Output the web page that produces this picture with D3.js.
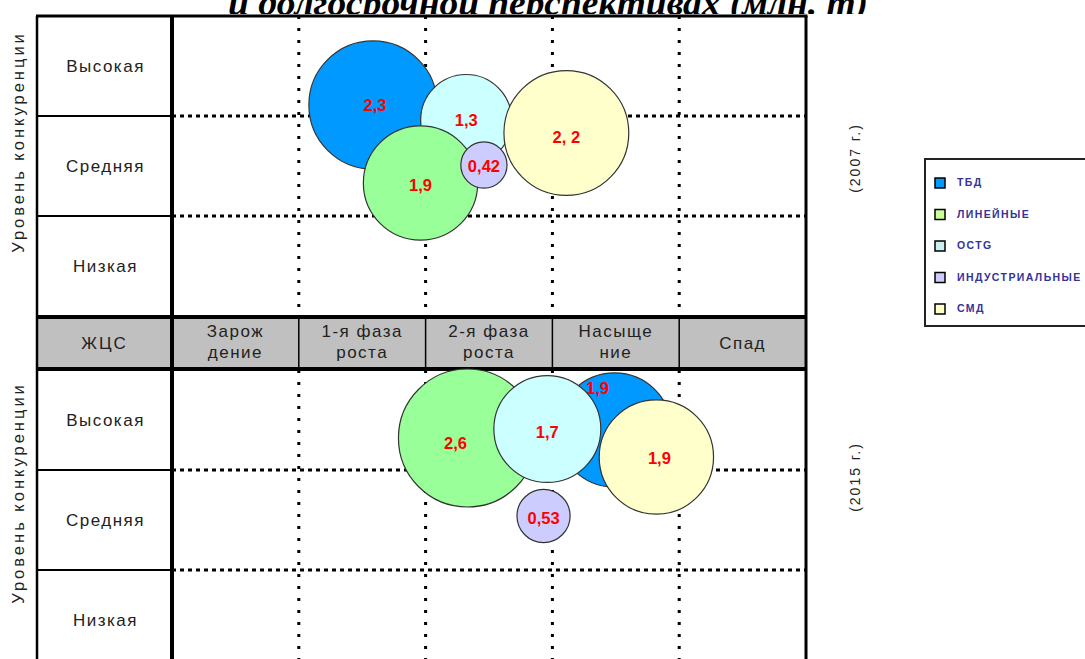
<!DOCTYPE html>
<html lang="ru">
<head>
    <meta charset="UTF-8">
    <title>ЖЦС</title>
    <script src="https://cdn.jsdelivr.net/npm/d3@7/dist/d3.min.js"></script>
    <style>
        body { margin: 0; background: #fff; }
        text { font-family: Arial, "Liberation Sans", sans-serif; }
    </style>
</head>
<body>
<svg id="main-svg" width="1085" height="659" xmlns="http://www.w3.org/2000/svg"></svg>
<script>
    'use strict';
    // данные
    const titleText = 'и долгосрочной перспективах (млн. т)';
    const stages = [['Зарож', 'дение'], ['1-я фаза', 'роста'], ['2-я фаза', 'роста'], ['Насыще', 'ние'], ['Спад']];
    const levels = ['Высокая', 'Средняя', 'Низкая'];
    const categories = ['ТБД', 'ЛИНЕЙНЫЕ', 'ОСТG', 'ИНДУСТРИАЛЬНЫЕ', 'СМД'];

    // 2007 г.  (стадия ЖЦС 0..5, уровень конкуренции 0..3)
    const values2007 = [2.3, 1.9, 1.3, 0.42, 2.2];
    const labels2007 = ['2,3', '1,9', '1,3', '0,42', '2, 2'];
    const stage2007 = [1.585, 1.96, 2.32, 2.46, 3.11];
    const level2007 = [2.11, 1.33, 1.96, 1.51, 1.83];
    const order2007 = [0, 2, 4, 1, 3];

    // 2015 г.
    const values2015 = [1.9, 2.6, 1.7, 0.53, 1.9];
    const labels2015 = ['1,9', '2,6', '1,7', '0,53', '1,9'];
    const stage2015 = [3.49, 2.33, 2.96, 2.93, 3.82];
    const level2015 = [2.40, 2.32, 2.41, 1.54, 2.13];
    const order2015 = [1, 0, 2, 4, 3];

    // оформление
    const bubbleColors = ['#0099FF', '#99FF99', '#CCFFFF', '#CCCCFF', '#FFFFCC'];
    const legendColors = ['#0099FF', '#CCFF99', '#CCEEEE', '#CCCCFF', '#FFFFCC'];
    const labelShift2007 = [[2, 0], [0, 2], [0, 0], [0, 1], [0, 4]];
    const labelShift2015 = [[-17, -42], [-12, 5], [0, 3], [0, 2], [3, 1]];

    const svg = d3.select('#main-svg');
    const left = 37, split = 172, right = 806;
    const x = d3.scaleLinear().domain([0, 5]).range([split, right]);
    const yTop = d3.scaleLinear().domain([0, 3]).range([316, 16]);
    const yBot = d3.scaleLinear().domain([0, 3]).range([670, 370]);
    const r = d3.scalePow().exponent(0.6).domain([0, 2.6]).range([0, 69]);

    // заголовок (обрезан сверху)
    svg.append('clipPath').attr('id', 'tclip')
        .append('rect').attr('x', 0).attr('y', 0).attr('width', 1085).attr('height', 14);
    svg.append('text')
        .attr('clip-path', 'url(#tclip)')
        .attr('x', 228).attr('y', 15)
        .attr('textLength', 640).attr('lengthAdjust', 'spacingAndGlyphs')
        .style('font-family', '"Liberation Serif", "Times New Roman", serif')
        .style('font-weight', 'bold').style('font-style', 'italic')
        .style('font-size', '35px')
        .text(titleText);

    // серая полоса ЖЦС
    svg.append('rect').attr('x', left).attr('y', 318).attr('width', right - left).attr('height', 50)
        .attr('fill', '#C0C0C0');

    function drawPanel(y, y0, y1) {
        const g = svg.append('g');
        // пунктир: горизонтальные
        g.selectAll('line.h').data([1, 2]).join('line')
            .attr('x1', split).attr('x2', right)
            .attr('y1', d => y(d)).attr('y2', d => y(d))
            .attr('stroke', '#000').attr('stroke-width', 3).attr('stroke-dasharray', '4 4');
        // пунктир: вертикальные
        g.selectAll('line.v').data([1, 2, 3, 4]).join('line')
            .attr('x1', d => x(d)).attr('x2', d => x(d))
            .attr('y1', y0).attr('y2', y1)
            .attr('stroke', '#000').attr('stroke-width', 3).attr('stroke-dasharray', '3 9');
        // подписи уровней
        g.selectAll('text.lvl').data(levels).join('text')
            .attr('x', (left + split) / 2 + 1)
            .attr('y', (d, i) => (y(3 - i) + y(2 - i)) / 2 + 6)
            .attr('text-anchor', 'middle')
            .style('font-size', '17px').style('letter-spacing', '1.5px').attr('fill', '#222')
            .text(d => d);
        // разделители строк в левой колонке
        g.selectAll('line.sep').data([1, 2]).join('line')
            .attr('x1', left).attr('x2', split)
            .attr('y1', d => y(d)).attr('y2', d => y(d))
            .attr('stroke', '#000').attr('stroke-width', 2);
        return g;
    }

    drawPanel(yTop, 16, 316);
    drawPanel(yBot, 370, 659);

    // рамки
    const frame = svg.append('g').attr('stroke', '#000').attr('fill', 'none');
    frame.append('line').attr('x1', left - 1).attr('x2', right + 1.5).attr('y1', 16).attr('y2', 16).attr('stroke-width', 3);
    frame.append('line').attr('x1', left).attr('x2', left).attr('y1', 16).attr('y2', 659).attr('stroke-width', 2.5);
    frame.append('line').attr('x1', split).attr('x2', split).attr('y1', 16).attr('y2', 659).attr('stroke-width', 4);
    frame.append('line').attr('x1', right).attr('x2', right).attr('y1', 16).attr('y2', 659).attr('stroke-width', 3);
    frame.append('line').attr('x1', left).attr('x2', right).attr('y1', 317).attr('y2', 317).attr('stroke-width', 4);
    frame.append('line').attr('x1', left).attr('x2', right).attr('y1', 369).attr('y2', 369).attr('stroke-width', 4);
    frame.selectAll('line.hc').data([1, 2, 3, 4]).join('line')
        .attr('x1', d => x(d)).attr('x2', d => x(d)).attr('y1', 318).attr('y2', 368)
        .attr('stroke-width', 1.5);

    // заголовки стадий
    const hdr = svg.append('g').attr('fill', '#222').style('font-size', '17px').style('letter-spacing', '1.5px');
    hdr.append('text').attr('x', (left + split) / 2).attr('y', 349).attr('text-anchor', 'middle')
        .style('letter-spacing', '2px').text('ЖЦС');
    stages.forEach((lines, i) => {
        const cx = (x(i) + x(i + 1)) / 2;
        lines.forEach((t, j) => {
            hdr.append('text').attr('x', cx)
                .attr('y', lines.length === 1 ? 349 : 337 + j * 21)
                .attr('text-anchor', 'middle').text(t);
        });
    });

    // названия осей
    [[yTop, 142], [yBot, 493]].forEach(([, cy]) => {
        svg.append('text').attr('transform', `translate(24,${cy}) rotate(-90)`)
            .attr('text-anchor', 'middle').attr('fill', '#222')
            .style('font-size', '16.5px').style('letter-spacing', '3px')
            .text('Уровень конкуренции');
    });
    [['(2007 г.)', 158], ['(2015 г.)', 477]].forEach(([t, cy]) => {
        svg.append('text').attr('transform', `translate(860,${cy}) rotate(-90)`)
            .attr('text-anchor', 'middle').attr('fill', '#222')
            .style('font-size', '14px').style('letter-spacing', '2px')
            .text(t);
    });

    // пузыри
    function drawBubbles(vals, labels, stg, lvl, order, shift, y) {
        const rows = order.map(i => ({
            cat: i, v: vals[i], label: labels[i], s: stg[i], l: lvl[i], sh: shift[i]
        }));
        const g = svg.append('g');
        const node = g.selectAll('g').data(rows).join('g')
            .attr('transform', d => `translate(${x(d.s)},${y(d.l)})`);
        node.append('circle')
            .attr('r', d => r(d.v))
            .attr('fill', d => bubbleColors[d.cat])
            .attr('stroke', '#333').attr('stroke-width', 1.2);
        node.append('text')
            .attr('x', d => d.sh[0]).attr('y', d => d.sh[1] + 6)
            .attr('text-anchor', 'middle').attr('fill', '#FF0000')
            .style('font-size', '16.5px').style('font-weight', 'bold')
            .text(d => d.label);
    }
    drawBubbles(values2007, labels2007, stage2007, level2007, order2007, labelShift2007, yTop);
    drawBubbles(values2015, labels2015, stage2015, level2015, order2015, labelShift2015, yBot);

    // легенда
    const lg = svg.append('g');
    lg.append('rect').attr('x', 925).attr('y', 159).attr('width', 170).attr('height', 167)
        .attr('fill', '#fff').attr('stroke', '#222').attr('stroke-width', 2);
    const ly = d3.scalePoint().domain(categories).range([183, 309]);
    lg.selectAll('rect.sw').data(categories).join('rect')
        .attr('x', 935).attr('y', d => ly(d) - 5).attr('width', 10).attr('height', 10)
        .attr('fill', (d, i) => legendColors[i]).attr('stroke', '#000').attr('stroke-width', 1.5);
    lg.selectAll('text').data(categories).join('text')
        .attr('x', 957).attr('y', d => ly(d) + 3)
        .attr('fill', '#333399').style('font-size', '10.5px').style('font-weight', 'bold')
        .style('letter-spacing', '1.4px')
        .text(d => d);
</script>
</body>
</html>
